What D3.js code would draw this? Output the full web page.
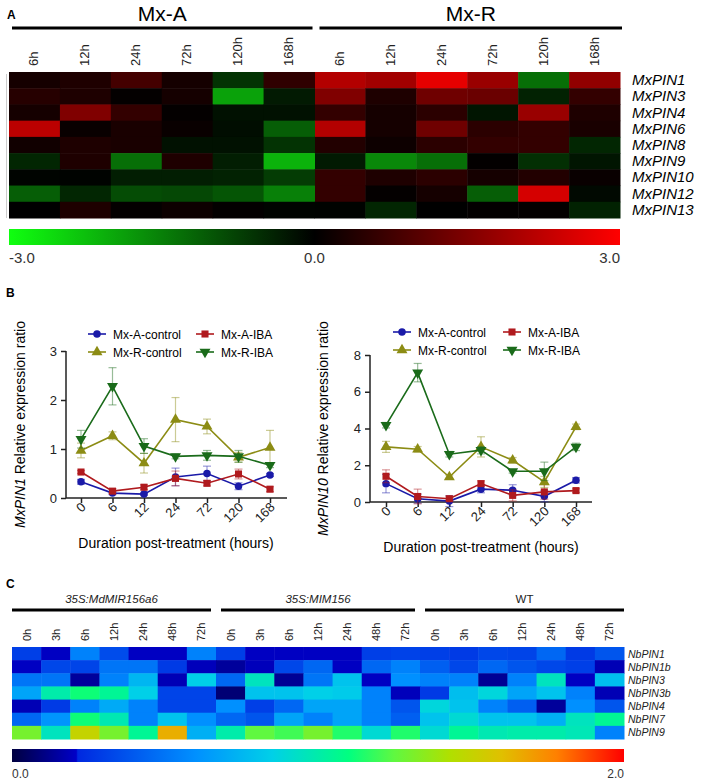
<!DOCTYPE html>
<html lang="en">
<head>
<meta charset="UTF-8">
<title></title>
<script src="https://d3js.org/d3.v7.min.js"></script>
<style>
  body { margin: 0; background: #fff; }
  svg text { font-family: "Liberation Sans", Arial, sans-serif; }
</style>
</head>
<body>
<svg id="fig" width="708" height="782"></svg>
<script>
// ---------------- data : panel A ----------------
var genesA = ["MxPIN1","MxPIN3","MxPIN4","MxPIN6","MxPIN8","MxPIN9","MxPIN10","MxPIN12","MxPIN13"];
var timesA = ["6h","12h","24h","72h","120h","168h"];
var groupsA = ["Mx-A","Mx-R"];
var mxA = [
  [0.25, 0.35, 0.8, 0.25, -0.6, 0.55],
  [0.45, 0.35, 0.05, 0.25, -1.9, -0.3],
  [0.25, 1.5, 0.6, 0.05, -0.2, -0.2],
  [2.2, 0.1, 0.3, 0.1, -0.15, -1.1],
  [0.2, 0.35, 0.3, -0.2, -0.2, -0.6],
  [-0.45, 0.35, -1.3, 0.35, -0.35, -2.1],
  [-0.05, -0.03, -0.35, -0.35, -0.4, -0.7],
  [-1.1, -0.45, -0.9, -0.85, -1.0, -1.5],
  [0.0, 0.35, 0.05, 0.15, 0.03, -0.05]
];
var mxR = [
  [2.1, 1.9, 2.7, 1.8, -1.3, 1.7],
  [1.5, 0.35, 1.3, 1.25, -0.4, 0.6],
  [0.6, 0.25, 0.5, -0.25, 1.8, 0.35],
  [2.1, 0.25, 1.3, 0.5, 0.6, 0.3],
  [0.4, 0.15, 0.5, 0.6, 0.6, -0.45],
  [-0.3, -1.6, -1.3, 0.03, -0.55, -0.25],
  [0.6, 0.35, 0.5, 0.25, 0.4, 0.1],
  [0.6, 0.05, 0.25, -1.1, 2.5, -0.1],
  [-0.03, -0.45, 0.0, 0.03, 0.05, -0.4]
];
var colorTicksA = ["-3.0","0.0","3.0"];

// ---------------- data : panel B ----------------
var hours = ["0","6","12","24","72","120","168"];
var seriesNames = ["Mx-A-control","Mx-A-IBA","Mx-R-control","Mx-R-IBA"];
var pin1Mean = [
  [0.33, 0.1, 0.08, 0.43, 0.5, 0.24, 0.47],
  [0.53, 0.14, 0.22, 0.4, 0.3, 0.49, 0.18],
  [0.97, 1.27, 0.71, 1.6, 1.46, 0.83, 1.03],
  [1.2, 2.28, 1.06, 0.85, 0.87, 0.85, 0.67]
];
var pin1Err = [
  [0.05, 0.03, 0.02, 0.18, 0.15, 0.07, 0.03],
  [0.03, 0.05, 0.05, 0.15, 0.05, 0.1, 0.05],
  [0.15, 0.08, 0.2, 0.45, 0.15, 0.1, 0.35],
  [0.18, 0.38, 0.15, 0.05, 0.1, 0.12, 0.05]
];
var pin10Mean = [
  [1.0, 0.18, 0.05, 0.7, 0.64, 0.31, 1.18],
  [1.4, 0.3, 0.18, 1.0, 0.36, 0.55, 0.62],
  [3.0, 2.87, 1.36, 3.0, 2.27, 1.09, 4.09],
  [4.18, 7.04, 2.6, 2.82, 1.67, 1.67, 3.0]
];
var pin10Err = [
  [0.5, 0.25, 0.3, 0.2, 0.3, 0.3, 0.15],
  [0.35, 0.4, 0.1, 0.15, 0.3, 0.4, 0.1],
  [0.3, 0.15, 0.1, 0.55, 0.15, 0.3, 0.15],
  [0.15, 0.5, 0.15, 0.2, 0.1, 0.5, 0.2]
];

// ---------------- data : panel C ----------------
var genesC = ["NbPIN1","NbPIN1b","NbPIN3","NbPIN3b","NbPIN4","NbPIN7","NbPIN9"];
var timesC = ["0h","3h","6h","12h","24h","48h","72h"];
var groupsC = ["35S:MdMIR156a6","35S:MIM156","WT"];
var nbMIR = [
  [0.3, 0.2, 0.55, 0.35, 0.2, 0.2, 0.55],
  [0.2, 0.33, 0.32, 0.5, 0.5, 0.28, 0.19],
  [0.5, 0.5, 0.14, 0.55, 0.75, 0.18, 0.85],
  [0.68, 1.0, 1.12, 1.05, 0.85, 0.32, 0.32],
  [0.18, 0.28, 0.55, 0.7, 0.55, 0.32, 0.32],
  [0.45, 0.62, 1.12, 0.98, 0.55, 0.8, 0.6],
  [1.3, 0.95, 1.5, 1.3, 1.05, 1.65, 0.72]
];
var nbMIM = [
  [0.3, 0.2, 0.2, 0.2, 0.2, 0.3, 0.31],
  [0.14, 0.19, 0.33, 0.45, 0.2, 0.45, 0.55],
  [0.45, 0.95, 0.13, 0.5, 0.8, 0.2, 0.6],
  [0.08, 0.8, 0.8, 0.85, 0.83, 0.55, 0.19],
  [0.6, 0.3, 0.45, 0.68, 0.68, 0.55, 0.38],
  [0.45, 0.38, 0.68, 0.55, 0.68, 0.55, 0.42],
  [1.0, 1.25, 1.2, 1.3, 1.15, 0.9, 1.15]
];
var nbWT = [
  [0.3, 0.28, 0.33, 0.32, 0.45, 0.28, 0.38],
  [0.42, 0.33, 0.45, 0.38, 0.33, 0.3, 0.18],
  [0.55, 0.55, 0.13, 0.55, 0.95, 0.2, 0.78],
  [0.28, 0.78, 0.88, 0.68, 0.8, 0.55, 0.18],
  [0.88, 0.8, 0.55, 0.42, 0.14, 0.6, 0.38],
  [0.8, 0.9, 0.8, 0.8, 0.72, 0.95, 1.05],
  [0.9, 1.05, 0.98, 1.0, 1.0, 0.97, 0.55]
];
var colorTicksC = ["0.0","2.0"];

// colour scale definitions
var stopsA = [-3, 0, 3];
var coloursA = ["#10ff10", "#000000", "#ff0000"];
var stopsC = [0, 0.21, 0.215, 0.6, 0.85, 1.1, 1.25, 1.43, 1.6, 1.78, 2.0];
var coloursC = ["#000040","#0000c8","#0028e0","#0090ff","#00d0e8","#00ff80","#60f840","#b0e000","#e0c000","#ff8000","#ff0000"];

var svg = d3.select("#fig");
var defs = svg.append("defs");

function panelLetter(t, x, y) {
  svg.append("text").attr("x", x).attr("y", y).text(t)
    .attr("font-size", 12).attr("font-weight", "bold");
}

// =========================== PANEL A ===========================
panelLetter("A", 7, 19);
var colsA = [];
groupsA.forEach(function (g) { timesA.forEach(function (t) { colsA.push(g + "|" + t); }); });
var xA = d3.scaleBand().domain(colsA).range([9, 620]);
var yA = d3.scaleBand().domain(genesA).range([72, 218]);
var colA = d3.scaleLinear().domain(stopsA).range(coloursA);

groupsA.forEach(function (g, gi) {
  var x0 = xA(g + "|" + timesA[0]), x1 = xA(g + "|" + timesA[timesA.length - 1]) + xA.bandwidth();
  var a = gi === 0 ? x0 + 3 : x0 + 5, b = gi === 0 ? x1 - 2 : x1 + 2;
  svg.append("line").attr("x1", a).attr("x2", b).attr("y1", 28).attr("y2", 28)
    .attr("stroke", "#000").attr("stroke-width", 3);
  svg.append("text").attr("x", (a + b) / 2).attr("y", 21).attr("text-anchor", "middle")
    .attr("font-size", 21).text(g);
});

svg.append("g").selectAll("text").data(colsA).enter().append("text")
  .attr("transform", function (d) { return "translate(" + (xA(d) + xA.bandwidth() / 2 + 4) + ",66) rotate(-90)"; })
  .attr("font-size", 13).attr("fill", "#222")
  .text(function (d) { return d.split("|")[1]; });

var cellsA = [];
genesA.forEach(function (gene, i) {
  timesA.forEach(function (t, j) {
    cellsA.push({ gene: gene, col: "Mx-A|" + t, v: mxA[i][j] });
    cellsA.push({ gene: gene, col: "Mx-R|" + t, v: mxR[i][j] });
  });
});
svg.append("line").attr("x1", 6.5).attr("x2", 6.5).attr("y1", 74).attr("y2", 218)
  .attr("stroke", "#ccc").attr("stroke-width", 1);
svg.append("g").selectAll("rect").data(cellsA).enter().append("rect")
  .attr("x", function (d) { return xA(d.col); })
  .attr("y", function (d) { return yA(d.gene); })
  .attr("width", xA.bandwidth() + 0.5)
  .attr("height", yA.bandwidth() + 0.5)
  .attr("fill", function (d) { return colA(d.v); });

svg.append("g").selectAll("text").data(genesA).enter().append("text")
  .attr("x", 632).attr("y", function (d) { return yA(d) + yA.bandwidth() / 2 + 5; })
  .attr("font-size", 15).attr("font-style", "italic").text(function (d) { return d; });

var gradA = defs.append("linearGradient").attr("id", "gradA");
stopsA.forEach(function (s, i) {
  gradA.append("stop").attr("offset", (s - stopsA[0]) / (stopsA[stopsA.length - 1] - stopsA[0]))
    .attr("stop-color", coloursA[i]);
});
svg.append("rect").attr("x", 9).attr("y", 229).attr("width", 611).attr("height", 16)
  .attr("fill", "url(#gradA)");
var cbA = d3.scaleLinear().domain([-3, 3]).range([9, 620]);
colorTicksA.forEach(function (t, i) {
  svg.append("text").attr("x", cbA(+t)).attr("y", 263)
    .attr("text-anchor", i === 0 ? "start" : (i === colorTicksA.length - 1 ? "end" : "middle"))
    .attr("font-size", 15).attr("fill", "#333").text(t);
});

// =========================== PANEL B ===========================
panelLetter("B", 6, 297);
var seriesColours = ["#1a1aa8", "#b01a1e", "#8c8c14", "#1a6b1a"];
var seriesShapes = [d3.symbolCircle, d3.symbolSquare, d3.symbolTriangle, d3.symbolTriangle];

function symbolPath(i) {
  var size = i === 0 ? 44 : (i === 1 ? 50 : 52);
  return d3.symbol().type(seriesShapes[i]).size(size)();
}

function lineChart(opt) {
  var g = svg.append("g");
  var x = d3.scalePoint().domain(hours).range(opt.xr);
  var y = d3.scaleLinear().domain([0, opt.ymax]).range(opt.yr);

  // axes
  var yAxis = d3.axisLeft(y).tickValues(opt.yticks).tickFormat(d3.format("d")).tickSize(5).tickPadding(4);
  var ga = g.append("g").attr("transform", "translate(" + opt.ax[0] + ",0)").call(yAxis);
  ga.select(".domain").attr("d", "M0," + opt.yr[1] + "V" + opt.yr[0]);
  ga.selectAll("text").attr("font-size", 13).attr("font-family", "Liberation Sans, Arial").attr("fill", "#222");
  var xAxis = d3.axisBottom(x).tickSize(5).tickPadding(4);
  var gx = g.append("g").attr("transform", "translate(0," + opt.yr[0] + ")").call(xAxis);
  gx.select(".domain").attr("d", "M" + opt.ax[0] + ",0H" + opt.ax[1]);
  gx.selectAll("text").attr("font-size", 13).attr("font-family", "Liberation Sans, Arial").attr("fill", "#222")
    .attr("text-anchor", "end").attr("dy", null)
    .attr("transform", "translate(5,10) rotate(-45)").attr("y", 0).attr("x", 0);
  g.selectAll(".domain, .tick line").attr("stroke", "#222").attr("stroke-width", 1.5);

  // series
  opt.mean.forEach(function (m, si) {
    var pts = m.map(function (v, k) { return { h: hours[k], v: v, e: opt.err[si][k] }; });
    var c = seriesColours[si];
    var eb = g.append("g").attr("stroke", c).attr("stroke-opacity", 0.45).attr("stroke-width", 1.2);
    pts.forEach(function (p) {
      var px = x(p.h);
      eb.append("line").attr("x1", px).attr("x2", px).attr("y1", y(p.v - p.e)).attr("y2", y(p.v + p.e));
      eb.append("line").attr("x1", px - 4).attr("x2", px + 4).attr("y1", y(p.v + p.e)).attr("y2", y(p.v + p.e));
      eb.append("line").attr("x1", px - 4).attr("x2", px + 4).attr("y1", y(p.v - p.e)).attr("y2", y(p.v - p.e));
    });
    g.append("path").datum(pts)
      .attr("d", d3.line().x(function (p) { return x(p.h); }).y(function (p) { return y(p.v); }))
      .attr("fill", "none").attr("stroke", c).attr("stroke-width", 1.6);
    g.selectAll(null).data(pts).enter().append("path")
      .attr("d", symbolPath(si))
      .attr("transform", function (p) {
        return "translate(" + x(p.h) + "," + y(p.v) + ")" + (si === 3 ? " rotate(180)" : "");
      })
      .attr("fill", c);
  });

  // legend
  seriesNames.forEach(function (name, si) {
    var lx = opt.leg[0] + (si % 2) * opt.legDx, ly = opt.leg[1] + Math.floor(si / 2) * 18;
    var c = seriesColours[si];
    g.append("line").attr("x1", lx).attr("x2", lx + 18).attr("y1", ly).attr("y2", ly)
      .attr("stroke", c).attr("stroke-width", 1.6);
    g.append("path").attr("d", symbolPath(si))
      .attr("transform", "translate(" + (lx + 9) + "," + ly + ")" + (si === 3 ? " rotate(180)" : ""))
      .attr("fill", c);
    g.append("text").attr("x", lx + 25).attr("y", ly + 4.5).attr("font-size", 12).text(name);
  });

  // titles
  var yt = g.append("text").attr("text-anchor", "middle").attr("font-size", 14)
    .attr("transform", "translate(" + opt.ytx + "," + ((opt.yr[0] + opt.yr[1]) / 2) + ") rotate(-90)");
  yt.append("tspan").attr("font-style", "italic").text(opt.gene);
  yt.append("tspan").text(" Relative expression ratio");
  g.append("text").attr("x", opt.xtx).attr("y", opt.xty).attr("text-anchor", "middle")
    .attr("font-size", 14).text("Duration post-treatment (hours)");
}

lineChart({ gene: "MxPIN1", mean: pin1Mean, err: pin1Err, ymax: 3, yticks: [0, 1, 2, 3],
  xr: [81, 270], ax: [66, 287], yr: [498, 351], leg: [88, 334], legDx: 108,
  ytx: 25, xtx: 176, xty: 548 });
lineChart({ gene: "MxPIN10", mean: pin10Mean, err: pin10Err, ymax: 8, yticks: [0, 2, 4, 6, 8],
  xr: [386, 576], ax: [370, 592], yr: [502, 355], leg: [393, 332], legDx: 110,
  ytx: 328, xtx: 481, xty: 552 });

// =========================== PANEL C ===========================
panelLetter("C", 6, 588);
var colsC = [];
groupsC.forEach(function (g) { timesC.forEach(function (t) { colsC.push(g + "|" + t); }); });
var xC = d3.scaleBand().domain(colsC).range([12, 624]);
var yC = d3.scaleBand().domain(genesC).range([647, 739]);
var colC = d3.scaleLinear().domain(stopsC).range(coloursC);
var matsC = [nbMIR, nbMIM, nbWT];

groupsC.forEach(function (g, gi) {
  var x0 = xC(g + "|" + timesC[0]), x1 = xC(g + "|" + timesC[timesC.length - 1]) + xC.bandwidth();
  var a = gi === 0 ? x0 : x0 + 5, b = gi === groupsC.length - 1 ? x1 : x1 - 5;
  svg.append("line").attr("x1", a).attr("x2", b).attr("y1", 610).attr("y2", 610)
    .attr("stroke", "#000").attr("stroke-width", 3);
  svg.append("text").attr("x", (a + b) / 2).attr("y", 603).attr("text-anchor", "middle")
    .attr("font-size", 11.5).attr("font-style", g === "WT" ? "normal" : "italic")
    .attr("fill", "#222").text(g);
});

svg.append("g").selectAll("text").data(colsC).enter().append("text")
  .attr("transform", function (d) { return "translate(" + (xC(d) + xC.bandwidth() / 2 + 4) + ",641) rotate(-90)"; })
  .attr("font-size", 11).attr("fill", "#222")
  .text(function (d) { return d.split("|")[1]; });

var cellsC = [];
genesC.forEach(function (gene, i) {
  groupsC.forEach(function (g, gi) {
    timesC.forEach(function (t, j) {
      cellsC.push({ gene: gene, col: g + "|" + t, v: matsC[gi][i][j] });
    });
  });
});
svg.append("g").selectAll("rect").data(cellsC).enter().append("rect")
  .attr("x", function (d) { return xC(d.col); })
  .attr("y", function (d) { return yC(d.gene); })
  .attr("width", xC.bandwidth() + 0.5)
  .attr("height", yC.bandwidth() + 0.5)
  .attr("fill", function (d) { return colC(d.v); });

svg.append("g").selectAll("text").data(genesC).enter().append("text")
  .attr("x", 628).attr("y", function (d) { return yC(d) + yC.bandwidth() / 2 + 4; })
  .attr("font-size", 10.5).attr("font-style", "italic").attr("fill", "#222")
  .text(function (d) { return d; });

var gradC = defs.append("linearGradient").attr("id", "gradC");
stopsC.forEach(function (s, i) {
  gradC.append("stop").attr("offset", s / stopsC[stopsC.length - 1]).attr("stop-color", coloursC[i]);
});
svg.append("rect").attr("x", 12).attr("y", 749).attr("width", 612).attr("height", 13)
  .attr("fill", "url(#gradC)");
var cbC = d3.scaleLinear().domain([0, 2]).range([12, 624]);
colorTicksC.forEach(function (t, i) {
  svg.append("text").attr("x", cbC(+t)).attr("y", 778)
    .attr("text-anchor", i === 0 ? "start" : "end")
    .attr("font-size", 12).attr("fill", "#333").text(t);
});
</script>
</body>
</html>
